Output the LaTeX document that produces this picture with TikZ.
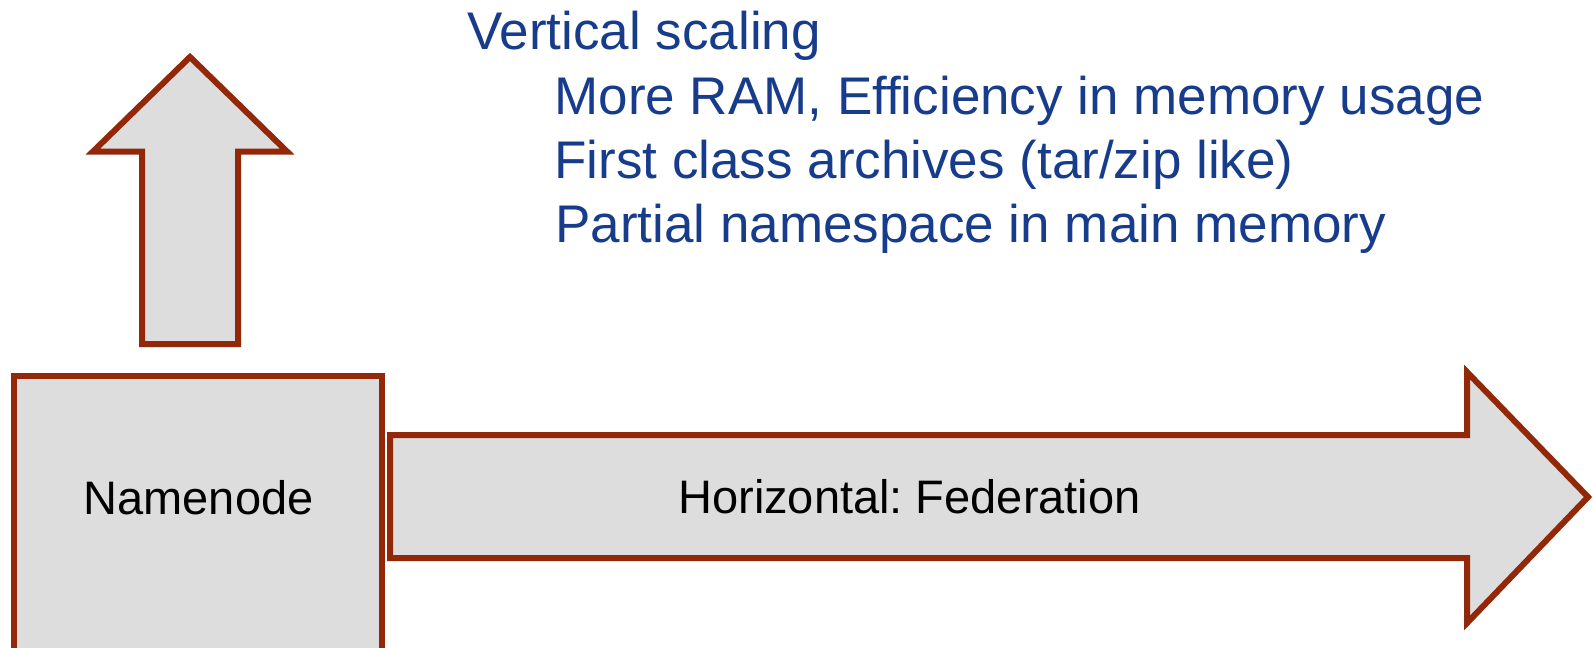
\documentclass[tikz,border=0pt]{standalone}
\usepackage{fontspec}
\setmainfont{Liberation Sans}
\frenchspacing
\definecolor{outline}{RGB}{146,40,8}
\definecolor{panel}{RGB}{221,221,221}
\definecolor{heading}{RGB}{24,60,140}
\tikzset{
  block/.style={draw=outline, fill=panel, line width=3pt, line join=miter},
  bluetext/.style={inner sep=0pt, anchor=base west, text=heading, font=\fontsize{26.5pt}{30pt}\selectfont},
  blacktext/.style={inner sep=0pt, anchor=base, text=black, font=\fontsize{23.5pt}{28pt}\selectfont}
}
\begin{document}
\begin{tikzpicture}[x=0.5pt,y=-0.5pt]
  \clip (0,0) rectangle (1593,647);
  % vertical growth arrow
  \draw[block] (190,57) -- (287,151.5) -- (238,151.5) -- (238,344)
    -- (142,344) -- (142,151.5) -- (93,151.5) -- cycle;
  % namenode box, running past the lower edge
  \draw[block] (14,376) rectangle (382,670);
  % horizontal growth arrow
  \draw[block] (390,435) -- (1467,435) -- (1467,372) -- (1588,497)
    -- (1467,623) -- (1467,558) -- (390,558) -- cycle;
  % labels
  \node[blacktext] (nn) at (198.5,514) {Namenode};
  \node[blacktext] (fed) at (909.5,513) {Horizontal: Federation};
  \node[bluetext] (vs) at (467,50) {Vertical scaling};
  \node[bluetext] (v1) at (554,114) {More RAM, Efficiency in memory usage};
  \node[bluetext] (v2) at (554,178) {First class archives (tar/zip like)};
  \node[bluetext] (v3) at (555,242) {Partial namespace in main memory};
\end{tikzpicture}
\end{document}
